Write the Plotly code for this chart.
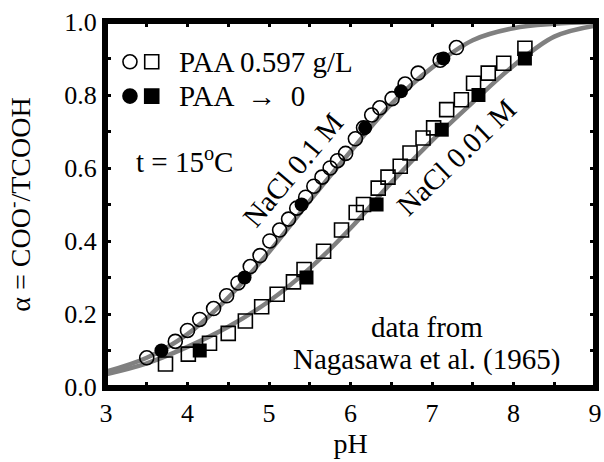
import plotly.graph_objects as go

# Theoretical curves
curve_ph = [3.0, 3.5, 4.0, 4.5, 5.0, 5.5, 6.0, 6.5, 7.0, 7.5, 8.0, 8.5, 9.0]
curve_01M = [0.042, 0.08, 0.145, 0.245, 0.37, 0.51, 0.645, 0.775, 0.875, 0.95, 0.983, 0.995, 1.0]
curve_001M = [0.035, 0.065, 0.11, 0.165, 0.235, 0.325, 0.435, 0.56, 0.675, 0.78, 0.88, 0.96, 0.99]

# NaCl 0.1 M, PAA 0.597 g/L (open circles)
oc_ph = [3.50, 3.85, 4.00, 4.15, 4.32, 4.48, 4.62, 4.77, 4.89, 5.01, 5.13, 5.24, 5.34, 5.45,
         5.55, 5.65, 5.75, 5.84, 5.94, 6.06, 6.16, 6.26, 6.36, 6.51, 6.67, 6.83, 7.10, 7.30]
oc_a = [0.08, 0.125, 0.155, 0.185, 0.215, 0.25, 0.285, 0.33, 0.36, 0.40, 0.43, 0.46, 0.49, 0.52,
        0.55, 0.575, 0.60, 0.62, 0.64, 0.68, 0.71, 0.745, 0.765, 0.79, 0.83, 0.86, 0.895, 0.93]
# NaCl 0.1 M, PAA -> 0 (filled circles)
fc_ph = [3.68, 4.70, 5.40, 6.18, 6.62, 7.14]
fc_a = [0.10, 0.30, 0.50, 0.71, 0.81, 0.90]

# NaCl 0.01 M, PAA 0.597 g/L (open squares)
os_ph = [3.73, 4.01, 4.27, 4.50, 4.71, 4.91, 5.10, 5.30, 5.43, 5.67, 5.89, 6.07, 6.16, 6.34,
         6.46, 6.61, 6.73, 6.89, 7.02, 7.18, 7.36, 7.51, 7.69, 7.88, 8.14]
os_a = [0.063, 0.09, 0.12, 0.147, 0.181, 0.22, 0.254, 0.288, 0.322, 0.372, 0.43, 0.478, 0.50, 0.545,
        0.575, 0.605, 0.641, 0.682, 0.71, 0.76, 0.787, 0.832, 0.86, 0.887, 0.928]
# NaCl 0.01 M, PAA -> 0 (filled squares)
fs_ph = [4.15, 5.46, 6.32, 7.12, 7.57, 8.14]
fs_a = [0.10, 0.30, 0.50, 0.705, 0.80, 0.90]

FONT = "Liberation Serif"
GRAY = "rgb(128,128,128)"
MS = 14

fig = go.Figure()
for y in (curve_01M, curve_001M):
    fig.add_trace(go.Scatter(x=curve_ph, y=y, mode="lines", line=dict(color=GRAY, width=4.5, shape="spline"),
                             showlegend=False, hoverinfo="skip"))

fig.add_trace(go.Scatter(x=oc_ph, y=oc_a, mode="markers",
                         marker=dict(symbol="circle-open", size=MS, color="black", line=dict(width=1.6)),
                         showlegend=False))
fig.add_trace(go.Scatter(x=os_ph, y=os_a, mode="markers",
                         marker=dict(symbol="square-open", size=MS, color="black", line=dict(width=1.6)),
                         showlegend=False))
fig.add_trace(go.Scatter(x=fc_ph, y=fc_a, mode="markers",
                         marker=dict(symbol="circle", size=MS, color="black"),
                         showlegend=False))
fig.add_trace(go.Scatter(x=fs_ph, y=fs_a, mode="markers",
                         marker=dict(symbol="square", size=MS, color="black"),
                         showlegend=False))

# frame around the plotting area
shapes = [dict(type="rect", xref="paper", yref="paper", x0=0, x1=1, y0=0, y1=1,
               line=dict(color="black", width=4), fillcolor="rgba(0,0,0,0)", layer="above")]

# legend symbols as layout shapes (paper coordinates)
def sym(kind, xp, yp, filled):
    shapes.append(dict(type=kind, xref="paper", yref="paper", xsizemode="pixel", ysizemode="pixel",
                       xanchor=xp, yanchor=yp, x0=-7, x1=7, y0=-7, y1=7,
                       line=dict(color="black", width=1.6),
                       fillcolor="black" if filled else "rgba(0,0,0,0)"))
sym("circle", 0.049, 0.891, False)
sym("rect", 0.0935, 0.891, False)
sym("circle", 0.049, 0.797, True)
sym("rect", 0.0935, 0.797, True)

tf = dict(family=FONT, size=29, color="black")
annotations = [
    dict(xref="paper", yref="paper", x=0.146, y=0.891, text="PAA 0.597 g/L", showarrow=False,
         xanchor="left", yanchor="middle", font=tf),
    dict(xref="paper", yref="paper", x=0.146, y=0.797, text="PAA  \u2192  0", showarrow=False,
         xanchor="left", yanchor="middle", font=tf),
    dict(xref="paper", yref="paper", x=0.058, y=0.622, text="t = 15<sup>o</sup>C", showarrow=False,
         xanchor="left", yanchor="middle", font=tf),
    dict(x=5.29, y=0.595, text="NaCl 0.1 M", showarrow=False, textangle=-50, font=tf),
    dict(x=7.30, y=0.631, text="NaCl 0.01 M", showarrow=False, textangle=-44, font=tf),
    dict(xref="paper", yref="paper", x=0.656, y=0.165, text="data from", showarrow=False,
         xanchor="center", yanchor="middle", font=tf),
    dict(xref="paper", yref="paper", x=0.656, y=0.074, text="Nagasawa et al. (1965)", showarrow=False,
         xanchor="center", yanchor="middle", font=tf),
]

axis_common = dict(showline=True, linewidth=4, linecolor="black", mirror="ticks", ticks="inside",
                   ticklen=5, tickwidth=3, tickcolor="black", showgrid=False, zeroline=False,
                   automargin=False,
                   tickfont=dict(family=FONT, size=26, color="black"))
fig.update_xaxes(range=[3, 9], dtick=1, tick0=3,
                 minor=dict(dtick=0.5, ticks="inside", ticklen=5, tickwidth=3, tickcolor="black"),
                 title=dict(text="pH", font=dict(family=FONT, size=28, color="black"), standoff=4),
                 **axis_common)
fig.update_yaxes(range=[0, 1], dtick=0.2, tick0=0, tickformat=".1f",
                 minor=dict(dtick=0.1, ticks="inside", ticklen=5, tickwidth=3, tickcolor="black"),
                 title=dict(text="\u03b1 = COO<sup>-</sup>/TCOOH", font=dict(family=FONT, size=28, color="black"),
                            standoff=26),
                 **axis_common)
fig.update_layout(width=604, height=462, margin=dict(l=106, r=9, t=22, b=75),
                  plot_bgcolor="white", paper_bgcolor="white",
                  shapes=shapes, annotations=annotations)
# remove the default 8px page margin so the figure fills the window exactly
fig.write_html("out.html", config={"displayModeBar": False},
               post_script="document.body.style.margin='0';document.body.style.overflow='hidden';")
